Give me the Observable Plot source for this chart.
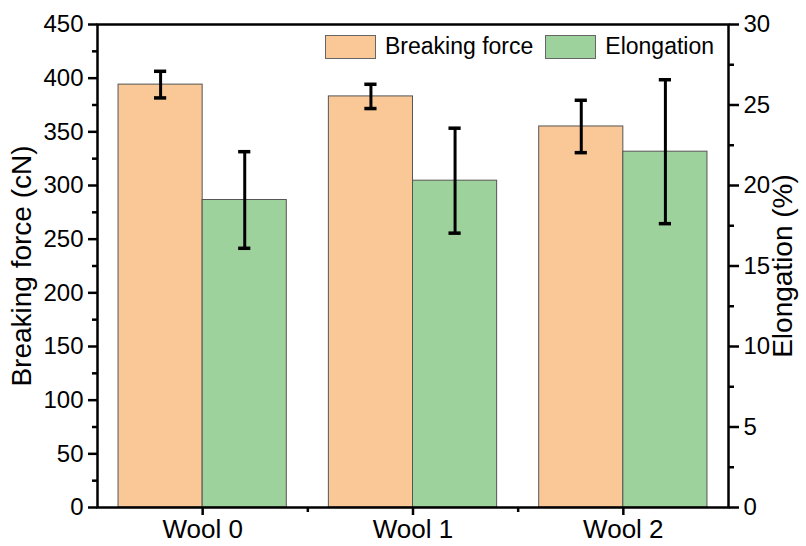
<!DOCTYPE html>
<html>
<head>
<meta charset="utf-8">
<script src="https://cdn.jsdelivr.net/npm/d3@7"></script>
<script src="https://cdn.jsdelivr.net/npm/@observablehq/plot@0.6"></script>
<style>
  html, body { margin: 0; padding: 0; background: #fff; }
  #wrap { position: relative; width: 806px; height: 546px; font-family: "Liberation Sans", Arial, sans-serif; }
  #legend { position: absolute; left: 325px; top: 33px; display: flex; align-items: center; font-size: 23px; color: #000; }
  #legend .sw { display: inline-block; width: 51px; height: 24px; border: 1px solid #666; box-sizing: border-box; margin-right: 9px; }
  #legend .item { display: flex; align-items: center; margin-right: 12px; }
</style>
</head>
<body>
<div id="wrap"></div>
<script>
const categories = ["Wool 0", "Wool 1", "Wool 2"];
const breakingForce = [394, 383, 355];      // cN
const breakingForceErr = [12.4, 11.3, 24.4];
const elongation = [19.1, 20.3, 22.1];      // %
const elongationErr = [3.0, 3.26, 4.47];
const seriesNames = ["Breaking force", "Elongation"];
const seriesColors = ["#FAC896", "#9ED29C"];
const leftTicks = [0, 50, 100, 150, 200, 250, 300, 350, 400, 450];
const rightTicks = [0, 5, 10, 15, 20, 25, 30];

const ratio = 450 / 30; // right axis max maps to left axis max

const rows = [];
categories.forEach((c, i) => {
  rows.push({cat: c, i, series: seriesNames[0], side: -1, v: breakingForce[i], e: breakingForceErr[i]});
  rows.push({cat: c, i, series: seriesNames[1], side: 1, v: elongation[i] * ratio, e: elongationErr[i] * ratio});
});
const bw = 0.4;
const cx = d => d.i + d.side * bw / 2;

const font = "Liberation Sans, Arial, sans-serif";

const chart = Plot.plot({
  width: 806,
  height: 546,
  marginLeft: 97,
  marginRight: 78,
  marginTop: 24,
  marginBottom: 39,
  style: {fontFamily: font, color: "#000", background: "#fff"},
  x: {domain: [-0.5, 2.5], axis: null},
  y: {domain: [0, 450], axis: null},
  color: {domain: seriesNames, range: seriesColors},
  marks: [
    Plot.rect(rows, {
      x1: d => d.side < 0 ? d.i - bw : d.i,
      x2: d => d.side < 0 ? d.i : d.i + bw,
      y1: 0, y2: "v",
      fill: "series", stroke: "#555", strokeWidth: 1
    }),
    Plot.ruleX(rows, {x: cx, y1: d => d.v - d.e, y2: d => d.v + d.e, stroke: "black", strokeWidth: 3}),
    Plot.ruleY(rows, {y: d => d.v + d.e, x1: d => cx(d) - 0.029, x2: d => cx(d) + 0.029, stroke: "black", strokeWidth: 3.5}),
    Plot.ruleY(rows, {y: d => d.v - d.e, x1: d => cx(d) - 0.029, x2: d => cx(d) + 0.029, stroke: "black", strokeWidth: 3.5}),
    // left axis
    Plot.axisY(leftTicks, {anchor: "left", tickSize: 9, tickPadding: 5, fontSize: 24, strokeWidth: 2.5, label: null}),
    Plot.axisY(leftTicks.slice(0, -1).map(v => v + 25), {anchor: "left", tickSize: 5, tickFormat: () => "", strokeWidth: 2.5, label: null}),
    Plot.axisY({anchor: "left", ticks: [], label: "Breaking force (cN)", labelAnchor: "center", labelArrow: "none", labelOffset: 86, fontSize: 28}),
    // right axis
    Plot.axisY(rightTicks.map(v => v * ratio), {anchor: "right", tickFormat: d => d / ratio, tickSize: 10, tickPadding: 5, fontSize: 24, strokeWidth: 2.5, label: null}),
    Plot.axisY(rightTicks.slice(0, -1).map(v => (v + 2.5) * ratio), {anchor: "right", tickSize: 5, tickFormat: () => "", strokeWidth: 2.5, label: null}),
    Plot.axisY({anchor: "right", ticks: [], label: "Elongation (%)", labelAnchor: "center", labelArrow: "none", labelOffset: 63, fontSize: 28}),
    // bottom axis
    Plot.axisX(categories.map((c, i) => i), {anchor: "bottom", tickSize: 8, tickPadding: 4, tickFormat: i => categories[i], fontSize: 26, strokeWidth: 2.5, label: null}),
    Plot.axisX([0.5, 1.5], {anchor: "bottom", tickSize: 5, tickFormat: () => "", strokeWidth: 2.5, label: null}),
    Plot.frame({stroke: "black", strokeWidth: 2.5})
  ]
});

const wrap = document.getElementById("wrap");
wrap.appendChild(chart);
const legend = document.createElement("div");
legend.id = "legend";
seriesNames.forEach((s, k) => {
  const item = document.createElement("div");
  item.className = "item";
  const sw = document.createElement("span");
  sw.className = "sw";
  sw.style.background = seriesColors[k];
  item.appendChild(sw);
  item.appendChild(document.createTextNode(s));
  legend.appendChild(item);
});
wrap.appendChild(legend);
</script>
</body>
</html>
